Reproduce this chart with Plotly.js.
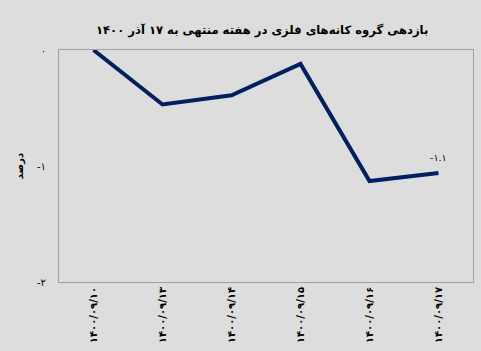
<!DOCTYPE html>
<html>
<head>
<meta charset="utf-8">
<script src="https://cdn.plot.ly/plotly-3.0.1.min.js"></script>
<style>html,body{margin:0;padding:0;background:#dddddd;}#chart{width:481px;height:351px;}</style>
</head>
<body>
<div id="chart"></div>
<script>
const categories = ['۱۴۰۰/۰۹/۱۰', '۱۴۰۰/۰۹/۱۳', '۱۴۰۰/۰۹/۱۴', '۱۴۰۰/۰۹/۱۵', '۱۴۰۰/۰۹/۱۶', '۱۴۰۰/۰۹/۱۷'];
const values = [0, -0.47, -0.39, -0.12, -1.13, -1.06];
const lastLabel = '-۱.۱';
const yTickVals = [0, -1, -2];
const yTickText = ['۰', '-۱', '-۲'];
const titleText = 'بازدهی گروه کانه‌های فلزی در هفته منتهی به ۱۷ آذر ۱۴۰۰';
const yTitleText = 'درصد';

const FONT = 'DejaVu Sans, sans-serif';
const last = values.length - 1;

Plotly.newPlot('chart', [{
  type: 'scatter',
  mode: 'lines',
  x: categories,
  y: values,
  line: {color: '#002060', width: 4},
  cliponaxis: false,
  hoverinfo: 'none'
}], {
  width: 481,
  height: 351,
  margin: {l: 59, r: 8, t: 50, b: 69},
  paper_bgcolor: '#dddddd',
  plot_bgcolor: '#dddddd',
  showlegend: false,
  font: {family: FONT, color: '#000'},
  title: {
    text: '<b>' + titleText + '</b>',
    font: {family: FONT, size: 11.6, color: '#000'},
    x: 0.545, xanchor: 'center',
    y: 0.915, yanchor: 'middle'
  },
  annotations: [{
    x: categories[last], y: values[last],
    xref: 'x', yref: 'y',
    text: lastLabel,
    showarrow: false,
    yshift: 15,
    font: {family: FONT, size: 9.5, color: '#000'}
  }],
  xaxis: {
    type: 'category',
    range: [-0.5, 5.5],
    tickangle: -90,
    ticks: '',
    tickfont: {family: FONT, size: 10, color: '#000', weight: 'bold'},
    showgrid: false,
    zeroline: false,
    showline: true,
    linecolor: '#a0a0a0',
    linewidth: 1,
    mirror: true,
    fixedrange: true
  },
  yaxis: {
    range: [-2, 0],
    tickvals: yTickVals,
    ticktext: yTickText,
    ticks: '',
    ticklabelstandoff: 10,
    tickfont: {family: FONT, size: 10, color: '#000'},
    showgrid: true,
    gridcolor: '#dadada',
    zeroline: false,
    showline: true,
    linecolor: '#a0a0a0',
    linewidth: 1,
    mirror: true,
    title: {text: '<b>' + yTitleText + '</b>', font: {family: FONT, size: 10, color: '#000'}, standoff: 11},
    fixedrange: true
  }
}, {displayModeBar: false, staticPlot: true});
</script>
</body>
</html>
